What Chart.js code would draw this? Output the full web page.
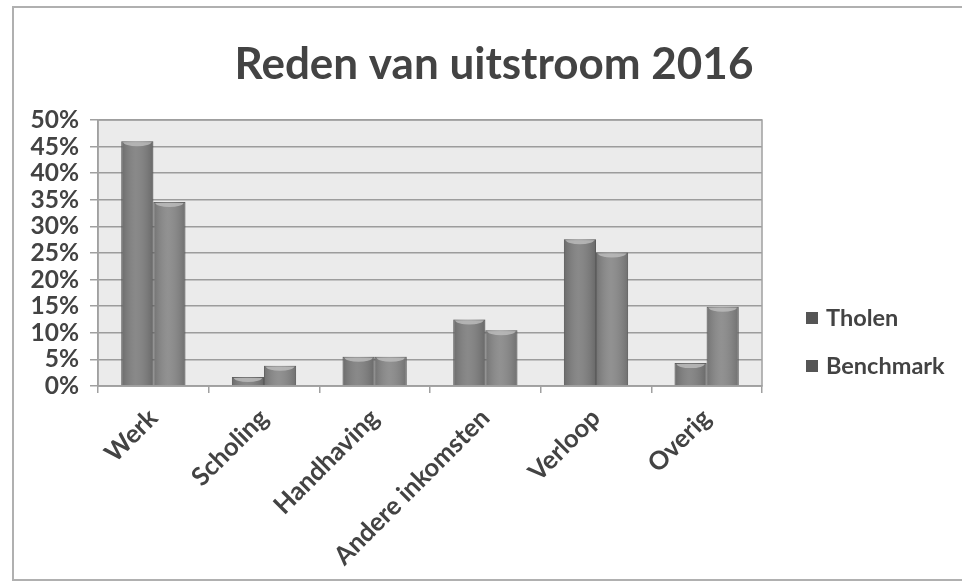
<!DOCTYPE html>
<html>
<head>
<meta charset="utf-8">
<title>Reden van uitstroom 2016</title>
<script src="https://cdn.jsdelivr.net/npm/chart.js"></script>
<style>
  html, body { margin: 0; padding: 0; background: #fff; }
  #wrap { width: 962px; height: 582px; }
</style>
</head>
<body>
<div id="wrap"><canvas id="chart" width="962" height="582"></canvas></div>
<script>
const categories = ["Werk", "Scholing", "Handhaving", "Andere inkomsten", "Verloop", "Overig"];
const tholen = [46, 1.7, 5.5, 12.5, 27.6, 4.3];
const benchmark = [34.6, 3.8, 5.5, 10.5, 25.1, 14.9];
const yTicks = [0, 5, 10, 15, 20, 25, 30, 35, 40, 45, 50];

const FONT = "Lato, Calibri, 'Open Sans', sans-serif";
const TEXT = "#434343";

// frame, plot background, title, bar shading and legend
const decor = {
  id: "decor",
  beforeDraw(chart) {
    const { ctx, chartArea: a } = chart;
    ctx.save();
    ctx.fillStyle = "#ebebeb";
    ctx.fillRect(a.left, a.top, a.right - a.left, a.bottom - a.top);
    ctx.strokeStyle = "#b0b0b0";
    ctx.lineWidth = 2;
    ctx.strokeRect(13, 7, 980, 573);
    ctx.restore();
  },
  afterDatasetsDraw(chart) {
    const { ctx } = chart;
    ctx.save();
    chart.data.datasets.forEach((ds, i) => {
      chart.getDatasetMeta(i).data.forEach((bar) => {
        const w = bar.width, left = bar.x - w / 2;
        const g = ctx.createLinearGradient(left, 0, left + w, 0);
        g.addColorStop(0, "rgba(0,0,0,0.16)");
        g.addColorStop(0.45, "rgba(255,255,255,0.08)");
        g.addColorStop(1, "rgba(0,0,0,0.18)");
        ctx.fillStyle = g;
        ctx.fillRect(left, bar.y, w, bar.base - bar.y);
        ctx.fillStyle = "rgba(190,190,190,0.8)";
        ctx.beginPath();
        ctx.ellipse(bar.x, bar.y + 1, w / 2 - 2, 4, 0, 0, Math.PI);
        ctx.fill();
      });
    });
    ctx.restore();
  },
  afterDraw(chart) {
    const { ctx, chartArea: a } = chart;
    ctx.save();
    ctx.strokeStyle = "#a0a0a0";
    ctx.lineWidth = 1.5;
    ctx.strokeRect(a.left, a.top, a.right - a.left, a.bottom - a.top);

    ctx.fillStyle = TEXT;
    ctx.font = "bold 44px " + FONT;
    ctx.textAlign = "center";
    ctx.textBaseline = "alphabetic";
    ctx.fillText("Reden van uitstroom 2016", 494, 79);

    ctx.font = "bold 23.5px " + FONT;
    ctx.textAlign = "left";
    ctx.textBaseline = "middle";
    const ys = [318, 366];
    chart.data.datasets.forEach((ds, i) => {
      ctx.fillStyle = "#555";
      ctx.fillRect(806, ys[i] - 6, 12, 12);
      ctx.fillStyle = TEXT;
      ctx.fillText(ds.label, 826, ys[i]);
    });
    ctx.restore();
  }
};

new Chart(document.getElementById("chart"), {
  type: "bar",
  data: {
    labels: categories,
    datasets: [
      { label: "Tholen", data: tholen, backgroundColor: "#7f7f7f", borderColor: "#6e6e6e", borderWidth: 1 },
      { label: "Benchmark", data: benchmark, backgroundColor: "#888888", borderColor: "#747474", borderWidth: 1 }
    ]
  },
  options: {
    responsive: false,
    animation: false,
    layout: { padding: { top: 120, right: 200, left: 0, bottom: 0 } },
    datasets: { bar: { categoryPercentage: 0.58, barPercentage: 1.0 } },
    plugins: {
      legend: { display: false },
      title: { display: false },
      tooltip: { enabled: false }
    },
    scales: {
      x: {
        afterFit(scale) { scale.height = 196; },
        grid: { drawOnChartArea: false, drawTicks: true, tickLength: 7, color: "#a0a0a0", lineWidth: 1.5 },
        border: { color: "#a0a0a0", width: 1.5 },
        ticks: {
          color: TEXT,
          font: { family: FONT, size: 25.5, weight: "bold" },
          minRotation: 45,
          maxRotation: 45,
          padding: 10,
          autoSkip: false
        }
      },
      y: {
        min: 0,
        max: 50,
        afterFit(scale) { scale.width = 98; },
        afterBuildTicks(scale) { scale.ticks = yTicks.map((v) => ({ value: v })); },
        grid: { color: "#9c9c9c", lineWidth: 1.5, drawTicks: true, tickLength: 8, tickColor: "#a0a0a0" },
        border: { color: "#a0a0a0", width: 1.5 },
        ticks: {
          color: TEXT,
          font: { family: FONT, size: 24.5, weight: "bold" },
          padding: 11,
          autoSkip: false,
          callback: (v) => v + "%"
        }
      }
    }
  },
  plugins: [decor]
});
</script>
</body>
</html>
